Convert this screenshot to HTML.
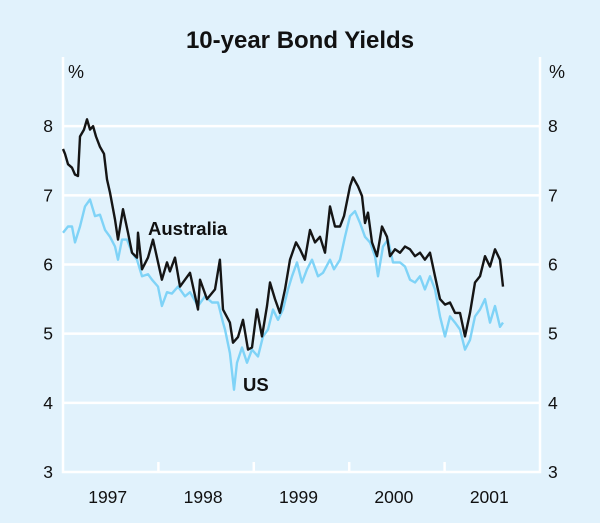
<!DOCTYPE html>
<html><head><meta charset="utf-8">
<style>
html,body{margin:0;padding:0;background:#e1f2fc;}
svg{display:block;font-family:"Liberation Sans",Arial,sans-serif;}
</style></head>
<body>
<svg id="chart" width="600" height="523" viewBox="0 0 600 523">
<rect x="0" y="0" width="600" height="523" fill="#e1f2fc"/>
<text x="300" y="48" text-anchor="middle" font-size="24" font-weight="bold" fill="#111">10-year Bond Yields</text>
<g id="grid"></g>
<g id="series"></g>
<text x="76" y="78" text-anchor="middle" font-size="18" fill="#111">%</text>
<text x="557" y="78" text-anchor="middle" font-size="18" fill="#111">%</text>
<text x="148" y="235" font-size="18.5" font-weight="bold" fill="#111">Australia</text>
<text x="243" y="391" font-size="18.5" font-weight="bold" fill="#111">US</text>
</svg>
<script>
const yTicks=[3,4,5,6,7,8];
const yearLabels=["1997","1998","1999","2000","2001"];
const auDates=[1997.000,1997.021,1997.052,1997.094,1997.126,1997.157,1997.178,1997.220,1997.252,1997.283,1997.315,1997.346,1997.388,1997.430,1997.461,1997.493,1997.545,1997.577,1997.629,1997.681,1997.723,1997.776,1997.786,1997.828,1997.891,1997.943,1997.985,1998.037,1998.090,1998.121,1998.174,1998.226,1998.331,1998.415,1998.436,1998.509,1998.593,1998.645,1998.677,1998.750,1998.782,1998.834,1998.887,1998.939,1998.981,1999.033,1999.086,1999.138,1999.170,1999.222,1999.274,1999.327,1999.379,1999.442,1999.484,1999.536,1999.589,1999.641,1999.694,1999.746,1999.799,1999.851,1999.904,1999.945,2000.008,2000.040,2000.092,2000.134,2000.166,2000.197,2000.239,2000.291,2000.344,2000.396,2000.428,2000.480,2000.532,2000.585,2000.637,2000.690,2000.742,2000.794,2000.847,2000.899,2000.952,2001.004,2001.057,2001.109,2001.161,2001.214,2001.266,2001.319,2001.371,2001.423,2001.476,2001.528,2001.581,2001.612];
const auValues=[7.67,7.60,7.45,7.40,7.30,7.28,7.85,7.95,8.10,7.95,8.00,7.85,7.70,7.60,7.23,7.04,6.65,6.36,6.80,6.46,6.17,6.10,6.46,5.93,6.10,6.36,6.10,5.78,6.03,5.90,6.10,5.68,5.88,5.35,5.78,5.50,5.64,6.07,5.35,5.16,4.87,4.95,5.20,4.77,4.80,5.35,4.96,5.40,5.74,5.50,5.30,5.64,6.07,6.32,6.22,6.07,6.50,6.32,6.40,6.17,6.84,6.55,6.55,6.70,7.13,7.26,7.13,6.99,6.60,6.75,6.32,6.12,6.55,6.40,6.12,6.22,6.17,6.26,6.22,6.12,6.17,6.07,6.17,5.83,5.50,5.42,5.45,5.30,5.30,4.96,5.30,5.74,5.83,6.12,5.97,6.22,6.07,5.68];
const usDates=[1997.000,1997.052,1997.094,1997.126,1997.178,1997.231,1997.283,1997.335,1997.388,1997.440,1997.493,1997.545,1997.577,1997.618,1997.671,1997.723,1997.776,1997.828,1997.891,1997.933,1997.996,1998.037,1998.090,1998.142,1998.205,1998.279,1998.331,1998.415,1998.488,1998.562,1998.625,1998.677,1998.698,1998.750,1998.792,1998.824,1998.876,1998.929,1998.981,1999.044,1999.096,1999.149,1999.201,1999.254,1999.306,1999.358,1999.400,1999.453,1999.505,1999.558,1999.610,1999.673,1999.725,1999.799,1999.841,1999.904,1999.956,2000.008,2000.061,2000.113,2000.166,2000.218,2000.270,2000.302,2000.354,2000.407,2000.459,2000.532,2000.585,2000.637,2000.690,2000.742,2000.794,2000.847,2000.899,2000.952,2001.004,2001.057,2001.109,2001.161,2001.214,2001.266,2001.319,2001.371,2001.423,2001.476,2001.528,2001.581,2001.612];
const usValues=[6.46,6.55,6.55,6.32,6.55,6.84,6.94,6.70,6.72,6.50,6.40,6.26,6.07,6.36,6.36,6.17,6.07,5.83,5.86,5.78,5.68,5.40,5.60,5.58,5.68,5.54,5.60,5.40,5.54,5.45,5.45,5.16,5.06,4.72,4.19,4.58,4.80,4.58,4.77,4.67,4.96,5.06,5.35,5.20,5.35,5.64,5.83,6.03,5.74,5.93,6.07,5.83,5.88,6.07,5.93,6.07,6.40,6.70,6.77,6.60,6.40,6.32,6.12,5.83,6.26,6.36,6.03,6.03,5.97,5.78,5.74,5.83,5.64,5.83,5.64,5.25,4.96,5.25,5.16,5.06,4.77,4.91,5.25,5.35,5.50,5.16,5.40,5.10,5.16];

const NS="http://www.w3.org/2000/svg";
const L=63,R=540,T=57,B=472,X0=1997,X1=2002,Y0=3,Y1=9;
function xs(v){return L+(v-X0)/(X1-X0)*(R-L);}
function ys(v){return B-(v-Y0)/(Y1-Y0)*(B-T);}
function mk(tag,attrs,parent){const e=document.createElementNS(NS,tag);for(const k in attrs)e.setAttribute(k,attrs[k]);parent.appendChild(e);return e;}
const grid=document.getElementById('grid');
yTicks.forEach(t=>{
  if(t>Y0){const g=mk('line',{x1:L,x2:R,y1:ys(t),y2:ys(t),stroke:'#fff','stroke-width':2.5},grid);
  
  }
  const a=mk('text',{x:53,y:ys(t)+6,'text-anchor':'end','font-size':17.5,fill:'#111'},grid);a.textContent=t;
  
  
  const b=mk('text',{x:548,y:ys(t)+6,'font-size':17.5,fill:'#111'},grid);b.textContent=t;
  
  
});
const ax=mk('path',{d:`M${L},${T} V${B} H${R} V${T}`,fill:'none',stroke:'#fff','stroke-width':2.5},grid);


yearLabels.forEach((lab,i)=>{
  const y=+lab;
  if(i>0){const tk=mk('line',{x1:xs(y),x2:xs(y),y1:B,y2:B-10,stroke:'#fff','stroke-width':2.5},grid);
  
  }
  const t=mk('text',{x:xs(y+0.5)-3,y:503,'text-anchor':'middle','font-size':17.5,fill:'#111'},grid);t.textContent=lab;
  
  
});
const ser=document.getElementById('series');
function line(d,v,color,name){
  const p=mk('path',{d:d.map((x,i)=>(i?'L':'M')+xs(x).toFixed(1)+','+ys(v[i]).toFixed(1)).join(' '),fill:'none',stroke:color,'stroke-width':2.4,'stroke-linejoin':'round'},ser);
  
  
}
line(usDates,usValues,'#7fd3f7','us-yield-line');
line(auDates,auValues,'#151515','australia-yield-line');
</script>
</body></html>
